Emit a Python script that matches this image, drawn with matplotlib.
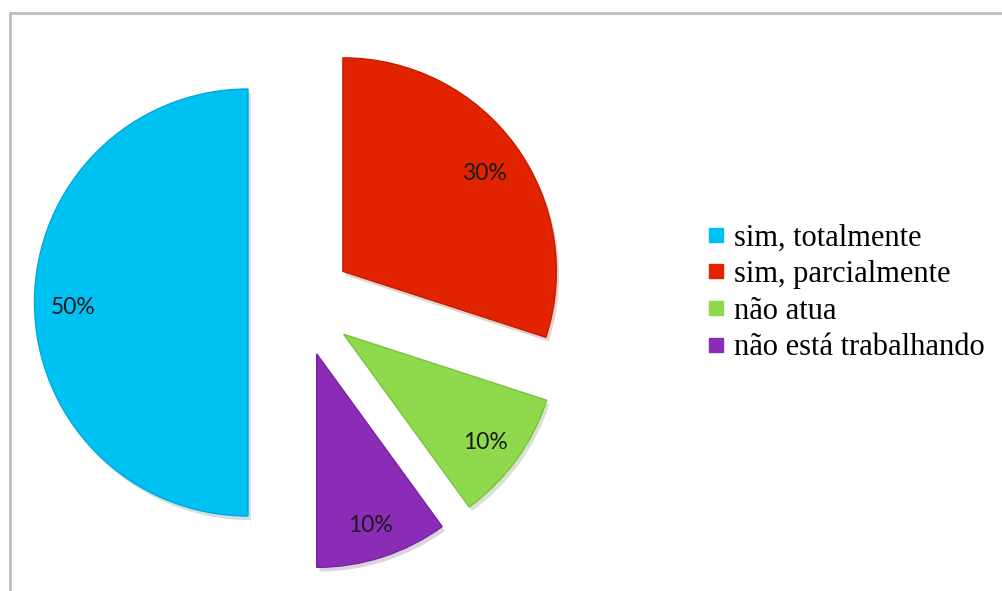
import matplotlib.pyplot as plt
import matplotlib.patheffects as pe
from matplotlib.lines import Line2D

# Survey answers and their shares
categorias = ["sim, totalmente", "sim, parcialmente", "não atua", "não está trabalhando"]
valores = [50, 30, 10, 10]
cores = ["#00C2F2", "#E22300", "#8FD94C", "#8B2CB6"]
bordas = ["#00A8D8", "#C41E00", "#7BC23C", "#7724A0"]

# figure is laid out in pixel units (1 data unit = 1 px)
fig = plt.figure(figsize=(10.03, 5.91), dpi=100)
ax = fig.add_axes([0, 0, 1, 1])

wedges, textos, pcts = ax.pie(
    valores,
    colors=cores,
    startangle=270,
    counterclock=False,
    radius=213.5,
    center=(300, 288.5),
    explode=[52, 53, 54, 54],
    autopct="%1.0f%%",
    pctdistance=0.82,
    wedgeprops=dict(linewidth=1.0),
    textprops=dict(fontsize=16.5, family="Lato", color="#1a1a1a"),
)

for w, b in zip(wedges, bordas):
    w.set_edgecolor(b)
    w.set_path_effects([
        pe.SimplePatchShadow(offset=(2, -3), alpha=0.18, rho=0.4),
        pe.Normal(),
    ])

# percentage labels sit a little below the wedge's mid-radius point
for t in pcts:
    x, y = t.get_position()
    t.set_position((x, y - 5))

ax.set_xlim(0, 1003)
ax.set_ylim(0, 591)
ax.set_aspect("equal")
ax.axis("off")

# outer frame (only top and left edges fall inside the image)
fig.add_artist(Line2D([10 / 1003, 1], [1 - 13 / 591, 1 - 13 / 591],
                      transform=fig.transFigure, color="#bdbdbd", lw=2))
fig.add_artist(Line2D([10 / 1003, 10 / 1003], [0, 1 - 13 / 591],
                      transform=fig.transFigure, color="#bdbdbd", lw=2))

# legend with square markers
handles = [Line2D([], [], marker="s", linestyle="", markersize=10.5,
                  markerfacecolor=c, markeredgecolor=c) for c in cores]
ax.legend(handles, categorias, loc="center left",
          bbox_to_anchor=(707 / 1003, 1 - 293 / 591),
          bbox_transform=fig.transFigure,
          frameon=False, handlelength=0.6, handletextpad=0.3,
          labelspacing=0.25, borderaxespad=0, borderpad=0,
          prop=dict(family="Liberation Serif", size=22))

fig.savefig("out.png", dpi=100)
